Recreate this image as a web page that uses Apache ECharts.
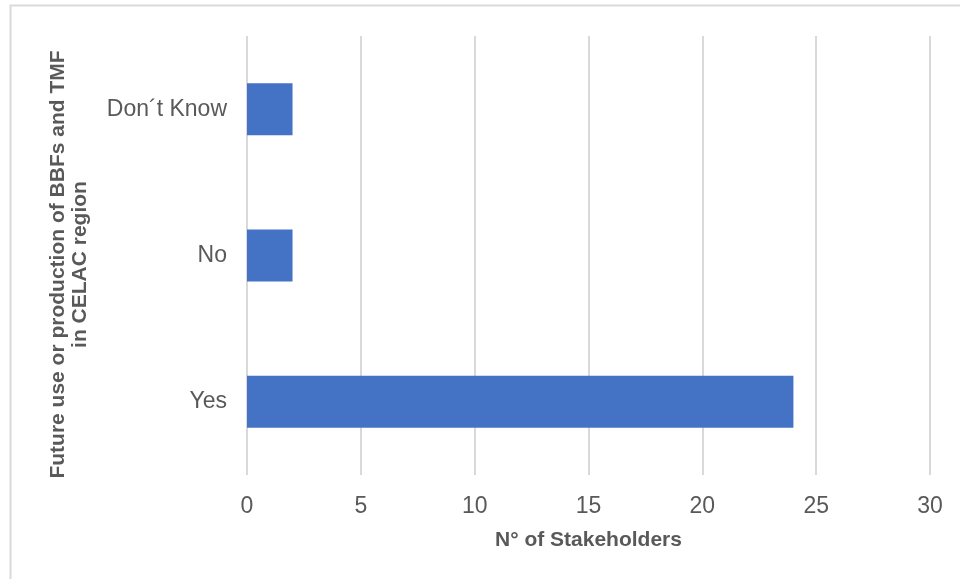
<!DOCTYPE html>
<html>
<head>
<meta charset="utf-8">
<script src="https://cdn.jsdelivr.net/npm/echarts@6/dist/echarts.min.js"></script>
<style>html,body{margin:0;padding:0;background:#fff;}#c{width:960px;height:579px;}</style>
</head>
<body>
<div id="c"></div>
<script>
const categories = ['Yes', 'No', 'Don´t Know'];
const stakeholders = [24, 2, 2];
const xTicks = [0, 5, 10, 15, 20, 25, 30];

const chart = echarts.init(document.getElementById('c'), null, {renderer: 'canvas'});
chart.setOption({
  backgroundColor: '#ffffff',
  animation: false,
  textStyle: {fontFamily: 'Liberation Sans, Arial, sans-serif'},
  graphic: [{
    type: 'rect',
    shape: {x: 10.5, y: 5.5, width: 1000, height: 1000},
    style: {fill: 'none', stroke: '#d9d9d9', lineWidth: 2},
    silent: true
  }],
  grid: {left: 247, right: 30, top: 36, bottom: 104, containLabel: false},
  xAxis: {
    type: 'value',
    min: xTicks[0],
    max: xTicks[xTicks.length - 1],
    interval: 5,
    name: 'N° of Stakeholders',
    nameLocation: 'middle',
    nameGap: 55,
    nameTextStyle: {color: '#595959', fontSize: 21, fontWeight: 'bold'},
    axisLine: {show: false},
    axisTick: {show: false},
    axisLabel: {color: '#595959', fontSize: 23, margin: 20},
    splitLine: {show: true, lineStyle: {color: '#d9d9d9', width: 2}}
  },
  yAxis: {
    type: 'category',
    data: categories,
    name: 'Future use or production of BBFs and TMF\nin CELAC region',
    nameLocation: 'middle',
    nameRotate: 90,
    nameGap: 156,
    nameTextStyle: {color: '#595959', fontSize: 21, fontWeight: 'bold', lineHeight: 22, padding: [0, 18, 0, 0]},
    axisLine: {show: false},
    axisTick: {show: false},
    axisLabel: {color: '#595959', fontSize: 23, margin: 20},
    splitLine: {show: false}
  },
  series: [{
    type: 'bar',
    data: stakeholders,
    barWidth: 52,
    itemStyle: {color: '#4472C4'}
  }]
});
</script>
</body>
</html>
